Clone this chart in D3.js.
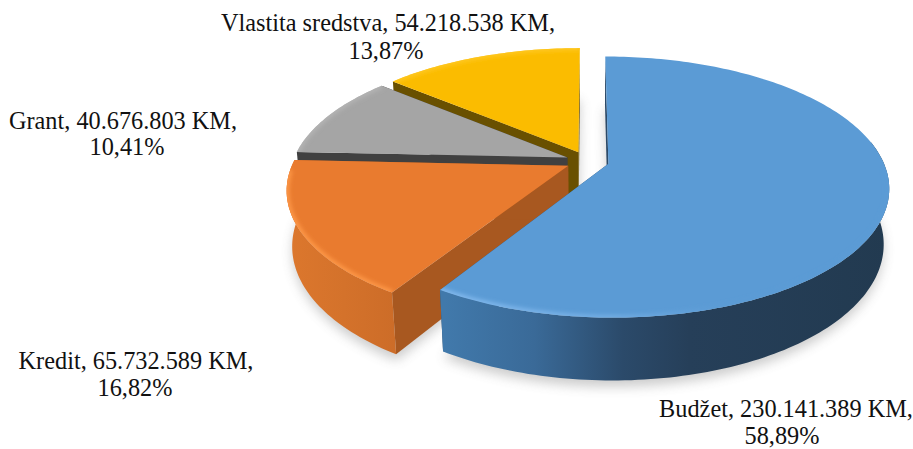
<!DOCTYPE html>
<html>
<head>
<meta charset="utf-8">
<script src="https://cdn.jsdelivr.net/npm/d3@7"></script>
<style>
html,body{margin:0;padding:0;background:#fff;overflow:hidden}
svg{display:block}
text{font-family:"Liberation Serif",serif;font-size:24.3px;fill:#111;text-anchor:middle}
</style>
</head>
<body>
<svg id="c" width="913" height="449"></svg>
<script>
const categories = ["Budžet", "Kredit", "Grant", "Vlastita sredstva"];
const amounts = [230141389, 65732589, 40676803, 54218538];
const topColors = ["#5b9bd5", "#e97b2f", "#a5a5a5", "#fbbc00"];
const rimColors = ["#7db6ea", "#ff9a4a", "#b5b5b5", "#ffc820"];
const faceColors = ["#2c4a68", "#a85820", "#404040", "#695000"];

const W = 913, H = 449;
const svg = d3.select("#c");
const defs = svg.append("defs");

// perspective disc model
const k = 0.187, m = 0.018, depth = 0.42, radius = 0.95, explode = 0.075;
const sx = d3.scaleLinear().domain([0, 1]).range([587.5, 876.5]);
const sy = d3.scaleLinear().domain([0, 1]).range([161, 293]);
const project = (X, Y, Z) => {
  const w = 1 - k * Y + m * Z;
  return [sx(X / w), sy((Y + depth * Z) / w)];
};

const total = d3.sum(amounts);
const arcs = d3.pie().sort(null).startAngle(0).endAngle(2 * Math.PI)(amounts);
const line = d3.line();
const fmtLocale = d3.formatLocale({decimal: ",", thousands: ".", grouping: [3], currency: ["", ""]});
const fmtAmount = fmtLocale.format(",d");
const fmtPct = fmtLocale.format(".2f");

const geo = arcs.map(a => {
  const mid = (a.startAngle + a.endAngle) / 2;
  const ox = explode * Math.sin(mid), oy = -explode * Math.cos(mid);
  const n = Math.ceil((a.endAngle - a.startAngle) / 0.02);
  const angles = d3.range(n + 1).map(i => a.startAngle + (a.endAngle - a.startAngle) * i / n);
  const disc = angles.map(t => [ox + radius * Math.sin(t), oy - radius * Math.cos(t)]);
  return {a, apex: [ox, oy], disc};
});
const at = (p, z) => project(p[0], p[1], z);

// filters
const blur = (id, s) => defs.append("filter").attr("id", id)
  .attr("filterUnits", "userSpaceOnUse").attr("x", 0).attr("y", 0).attr("width", W).attr("height", H)
  .append("feGaussianBlur").attr("stdDeviation", s);
blur("sh", 6);
blur("rim", 2);

// wall gradients
const grad = (id, x1, x2, stops) => {
  const g = defs.append("linearGradient").attr("id", id).attr("gradientUnits", "userSpaceOnUse")
    .attr("x1", x1).attr("x2", x2).attr("y1", 0).attr("y2", 0);
  stops.forEach(s => g.append("stop").attr("offset", s[0]).attr("stop-color", s[1]));
};
grad("w0", 445, 890, [[0, "#4179ab"], [0.2, "#3a6a98"], [0.4, "#2b4a6a"], [0.55, "#263f59"], [1, "#223a50"]]);
grad("w1", 288, 400, [[0, "#dc772d"], [0.5, "#d4722b"], [1, "#cc6c28"]]);
grad("r0", 445, 720, [[0, "#86bcf0"], [0.6, "#74aee4"], [1, "#5b9bd5"]]);

// ground shadow
const gShadow = svg.append("g").attr("filter", "url(#sh)").attr("opacity", 0.3);
geo.forEach(d => {
  gShadow.append("path")
    .attr("d", line([at(d.apex, 1.06), ...d.disc.map(p => at(p, 1.1))]) + "Z")
    .attr("fill", "#555");
});

// draw from back to front: yellow, gray, orange, blue
[3, 2, 1, 0].forEach(i => {
  const d = geo[i];
  const g = svg.append("g");
  const startEdge = d.disc[0], endEdge = d.disc[d.disc.length - 1];
  [startEdge, endEdge].forEach(e => {
    g.append("path")
      .attr("d", line([at(d.apex, 0), at(e, 0), at(e, 1), at(d.apex, 1)]) + "Z")
      .attr("fill", faceColors[i]);
  });
  if (i < 2) {
    const vis = d.disc.filter(p => p[1] > -0.15);
    const wallOuter = [...vis.map(p => at(p, 0)), ...vis.slice().reverse().map(p => at(p, 1))];
    g.append("path").attr("d", line(wallOuter) + "Z").attr("fill", `url(#w${i})`);
  }
  const topPts = [at(d.apex, 0), ...d.disc.map(p => at(p, 0))];
  const topD = line(topPts) + "Z";
  defs.append("clipPath").attr("id", `clip${i}`).append("path").attr("d", topD);
  g.append("path").attr("d", topD).attr("fill", topColors[i]);
  const front = i < 2 ? d.disc.filter(p => p[1] > 0.05) : d.disc;
  g.append("g").attr("clip-path", `url(#clip${i})`)
    .append("path").attr("d", line(front.map(p => at(p, 0))))
    .attr("fill", "none")
    .attr("stroke", i === 0 ? "url(#r0)" : rimColors[i])
    .attr("stroke-width", 5)
    .attr("filter", "url(#rim)");
});

// labels
const labelPos = [[786, 782, 417, 443.5], [136, 135, 369, 396], [123, 127, 129, 155], [388, 386, 31, 59]];
arcs.forEach((a, i) => {
  const t = svg.append("text");
  t.append("tspan").attr("x", labelPos[i][0]).attr("y", labelPos[i][2])
    .text(`${categories[i]}, ${fmtAmount(amounts[i])} KM,`);
  t.append("tspan").attr("x", labelPos[i][1]).attr("y", labelPos[i][3])
    .text(`${fmtPct(amounts[i] / total * 100)}%`);
});
</script>
</body>
</html>
